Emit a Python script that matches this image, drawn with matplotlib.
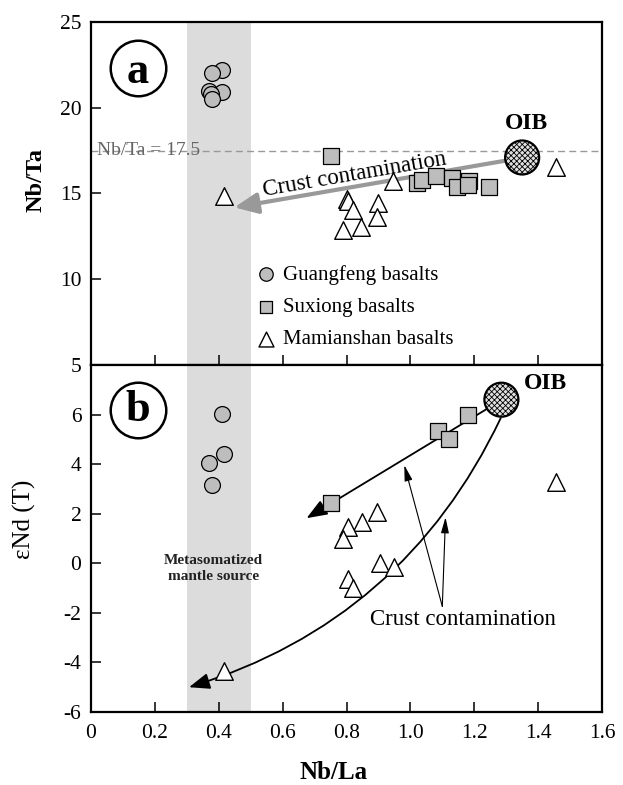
import numpy as np
import matplotlib
matplotlib.use("Agg")
import matplotlib.pyplot as plt

plt.rcParams['font.family'] = ['Liberation Serif', 'DejaVu Serif']
plt.rcParams['hatch.linewidth'] = 0.6
plt.rcParams['axes.unicode_minus'] = False

# ---- panel a : Nb/Ta vs Nb/La ----
gf_la_a = [0.41, 0.38, 0.41, 0.37, 0.375, 0.38]
gf_ta_a = [22.2, 22.0, 20.9, 21.0, 20.8, 20.5]

sx_la_a = [0.75, 1.02, 1.035, 1.08, 1.13, 1.145, 1.185, 1.18, 1.245]
sx_ta_a = [17.2, 15.6, 15.8, 16.0, 15.9, 15.35, 15.75, 15.5, 15.4]

mm_la_a = [0.415, 0.945, 1.455, 0.80, 0.805, 0.82, 0.90, 0.895, 0.845, 0.79]
mm_ta_a = [14.85, 15.7, 16.55, 14.7, 14.55, 14.05, 14.45, 13.65, 13.05, 12.85]

oib_a = (1.35, 17.1)

# ---- panel b : eNd(T) vs Nb/La ----
gf_la_b = [0.41, 0.415, 0.37, 0.38]
gf_nd_b = [6.03, 4.41, 4.06, 3.15]

sx_la_b = [1.18, 1.085, 1.12, 0.75]
sx_nd_b = [6.0, 5.35, 5.0, 2.44]

mm_la_b = [1.455, 0.895, 0.85, 0.805, 0.79, 0.905, 0.95, 0.805, 0.82, 0.415]
mm_nd_b = [3.28, 2.06, 1.68, 1.45, 0.98, 0.03, -0.14, -0.65, -0.99, -4.34]

oib_b = (1.285, 6.6)

fig = plt.figure(figsize=(6.23, 7.85), dpi=100)
L, W = 91 / 623, 511 / 623
ax1 = fig.add_axes([L, 1 - 365 / 785, W, 343 / 785])
ax2 = fig.add_axes([L, 1 - 712 / 785, W, 347 / 785])

gray = '#bdbdbd'
for ax in (ax1, ax2):
    ax.axvspan(0.3, 0.5, color='#dcdcdc', lw=0, zorder=0)
    ax.set_xlim(0, 1.6)
    ax.set_xticks(np.arange(0, 1.61, 0.2))
    for s in ax.spines.values():
        s.set_linewidth(1.6)
    ax.tick_params(direction='in', length=7, width=1.1, labelsize=15.5,
                   top=False, right=False)
    ax.tick_params(axis='x', pad=9)
    ax.tick_params(axis='y', pad=7)

# panel a
ax1.set_ylim(5, 25)
ax1.set_yticks([5, 10, 15, 20, 25])
ax1.tick_params(axis='x', labelbottom=False)
ax1.axhline(17.5, color='#999999', lw=1, ls=(0, (5, 3)), zorder=1)
ax1.text(0.02, 17.5, 'Nb/Ta = 17.5', fontsize=14, color='#666666', va='center')

h1 = ax1.scatter(gf_la_a, gf_ta_a, s=130, marker='o', fc=gray, ec='k', lw=0.9, zorder=3,
                 label='Guangfeng basalts')
h2 = ax1.scatter(sx_la_a, sx_ta_a, s=120, marker='s', fc=gray, ec='k', lw=0.9, zorder=3,
                 label='Suxiong basalts')
h3 = ax1.scatter(mm_la_a, mm_ta_a, s=160, marker='^', fc='white', ec='k', lw=1.0, zorder=3,
                 label='Mamianshan basalts')
ax1.scatter([oib_a[0]], [oib_a[1]], s=600, marker='o', fc='#e0e0e0', ec='k', lw=1.6,
            hatch='xxxxxx', zorder=4)
ax1.text(1.362, 19.1, 'OIB', fontsize=17, fontweight='bold', ha='center', va='center')

ax1.annotate('', xy=(0.449, 14.19), xytext=(1.293, 16.9),
             arrowprops=dict(arrowstyle='-|>,head_length=1.0,head_width=0.45',
                             color='#999999', lw=3, shrinkA=0, shrinkB=0,
                             mutation_scale=14), zorder=2)
ax1.text(0.825, 16.1, 'Crust contamination', fontsize=16.5, rotation=9.8,
         ha='center', va='center', rotation_mode='anchor')

ax1.plot([0.146], [22.34], marker='o', ms=40, mfc='white', mec='k', mew=1.8, zorder=5)
ax1.text(0.146, 22.34, 'a', fontsize=32, fontweight='bold', ha='center', va='center_baseline',
         zorder=6)

ax1.legend(handles=[h1, h2, h3], loc='lower left', bbox_to_anchor=(0.305, 0.022),
           frameon=False, fontsize=15, handlelength=1.0, handletextpad=0.35,
           labelspacing=0.6, borderaxespad=0, markerscale=0.85)
ax1.set_ylabel('Nb/Ta', fontsize=17.5, fontweight='bold')
ax1.yaxis.set_label_coords(-0.088, 0.54)

# panel b
ax2.set_ylim(-6, 8)
ax2.set_yticks([-6, -4, -2, 0, 2, 4, 6])
ax2.scatter(gf_la_b, gf_nd_b, s=130, marker='o', fc=gray, ec='k', lw=0.9, zorder=3)
ax2.scatter(sx_la_b, sx_nd_b, s=120, marker='s', fc=gray, ec='k', lw=0.9, zorder=3)
ax2.scatter(mm_la_b, mm_nd_b, s=160, marker='^', fc='white', ec='k', lw=1.0, zorder=3)
ax2.scatter([oib_b[0]], [oib_b[1]], s=600, marker='o', fc='#e0e0e0', ec='k', lw=1.6,
            hatch='xxxxxx', zorder=4)
ax2.text(1.423, 7.25, 'OIB', fontsize=17, fontweight='bold', ha='center', va='center')

ax2.annotate('', xy=(0.675, 1.82), xytext=(1.245, 6.27),
             arrowprops=dict(arrowstyle='-|>,head_length=0.9,head_width=0.35',
                             color='k', lw=1.3, shrinkA=0, shrinkB=0,
                             mutation_scale=14), zorder=2)
ax2.annotate('', xy=(0.307, -5.0), xytext=(1.283, 5.86),
             arrowprops=dict(arrowstyle='-|>,head_length=0.9,head_width=0.35',
                             color='k', lw=1.3, shrinkA=0, shrinkB=0,
                             mutation_scale=14, connectionstyle='arc3,rad=-0.22'),
             zorder=2)
for tx, ty in [(0.981, 3.96), (1.11, 1.86)]:
    ax2.annotate('', xy=(tx, ty), xytext=(1.10, -1.74),
                 arrowprops=dict(arrowstyle='-|>,head_length=0.8,head_width=0.2',
                                 color='k', lw=0.8, shrinkA=0, shrinkB=0,
                                 mutation_scale=12), zorder=2)
ax2.text(1.164, -2.25, 'Crust contamination', fontsize=16.5, ha='center', va='center')
ax2.text(0.384, -0.22, 'Metasomatized\nmantle source', fontsize=11, fontweight='bold',
         ha='center', va='center', linespacing=1.25, color='#222222')

ax2.plot([0.147], [6.19], marker='o', ms=40, mfc='white', mec='k', mew=1.8, zorder=5)
ax2.text(0.147, 6.19, 'b', fontsize=32, fontweight='bold', ha='center', va='center',
         zorder=6)

ax2.set_ylabel('\u03b5Nd (T)', fontsize=18)
ax2.yaxis.set_label_coords(-0.108, 0.554)
ax2.set_xlabel('Nb/La', fontsize=18, fontweight='bold')
ax2.xaxis.set_label_coords(0.475, -0.14)
ax2.set_xticklabels(['0', '0.2', '0.4', '0.6', '0.8', '1.0', '1.2', '1.4', '1.6'])

fig.savefig('out.png', dpi=100)
